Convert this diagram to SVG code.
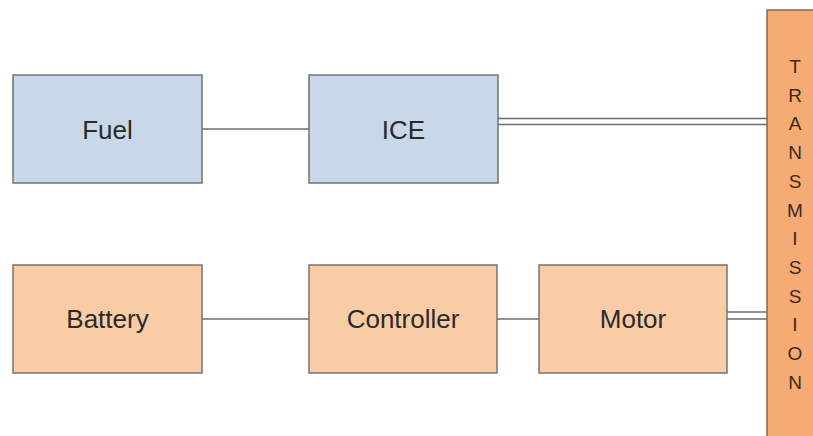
<svg xmlns="http://www.w3.org/2000/svg" width="813" height="436" viewBox="0 0 813 436">
<style>
.blue{fill:#c9d8e7;stroke:#6f7479;stroke-width:1.5}
.orange{fill:#f9cca6;stroke:#7a7370;stroke-width:1.5}
.lbl{font-family:"Liberation Sans",Arial,sans-serif;font-size:26px;fill:#2a2a2a;text-anchor:middle}
.tl{font-family:"Liberation Sans",Arial,sans-serif;font-size:19px;fill:#3a2a1e;text-anchor:middle}
.c{stroke:#6c6c6c;stroke-width:1.5;fill:none}
</style>
<rect width="813" height="436" fill="#ffffff"/>
<g id="connectors">
<line class="c" x1="202" y1="129" x2="309" y2="129"/>
<line class="c" x1="498" y1="118.5" x2="767" y2="118.5"/>
<line class="c" x1="498" y1="124.5" x2="767" y2="124.5"/>
<line class="c" x1="202" y1="319" x2="309" y2="319"/>
<line class="c" x1="497" y1="319" x2="539" y2="319"/>
<line class="c" x1="727" y1="312" x2="767" y2="312"/>
<line class="c" x1="727" y1="319" x2="767" y2="319"/>
</g>
<g id="fuel"><rect class="blue" x="13" y="75" width="189" height="108"/><text class="lbl" x="107.5" y="138.5">Fuel</text></g>
<g id="ice"><rect class="blue" x="309" y="75" width="189" height="108"/><text class="lbl" x="403.5" y="138.5">ICE</text></g>
<g id="battery"><rect class="orange" x="13" y="265" width="189" height="108"/><text class="lbl" x="107.5" y="327.5">Battery</text></g>
<g id="controller"><rect class="orange" x="309" y="265" width="188" height="108"/><text class="lbl" x="403" y="327.5">Controller</text></g>
<g id="motor"><rect class="orange" x="539" y="265" width="188" height="108"/><text class="lbl" x="633" y="327.5">Motor</text></g>
<g id="transmission"><rect x="767" y="10" width="50" height="430" fill="#f6ab74" stroke="#7a6a5e" stroke-width="1.5"/>
<text class="tl" x="795" y="73">T</text>
<text class="tl" x="795" y="101.7">R</text>
<text class="tl" x="795" y="130.4">A</text>
<text class="tl" x="795" y="159.1">N</text>
<text class="tl" x="795" y="187.8">S</text>
<text class="tl" x="795" y="216.5">M</text>
<text class="tl" x="795" y="245.2">I</text>
<text class="tl" x="795" y="273.9">S</text>
<text class="tl" x="795" y="302.6">S</text>
<text class="tl" x="795" y="331.3">I</text>
<text class="tl" x="795" y="360">O</text>
<text class="tl" x="795" y="388.7">N</text>
</g>
</svg>
